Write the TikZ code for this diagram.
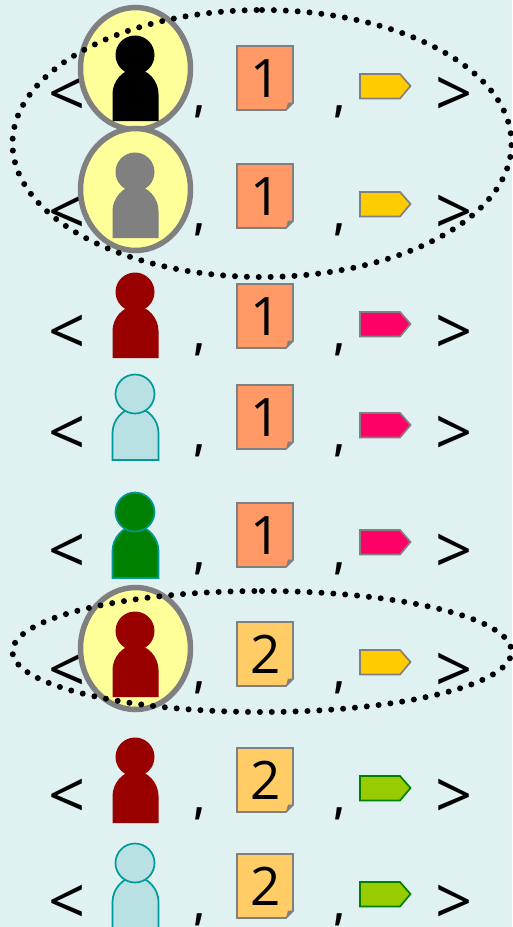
\documentclass[tikz,border=0pt]{standalone}
\usepackage{fontspec}
\usetikzlibrary{shapes.geometric}
\setmainfont{Open Sans}
\definecolor{bgpale}{HTML}{DFF1F1}
\definecolor{ringfill}{HTML}{FFFF99}
\definecolor{tealline}{HTML}{009999}
\definecolor{tealfill}{HTML}{B9E0E3}
\definecolor{darkred}{HTML}{990000}
\definecolor{darkgreen}{HTML}{008000}
\definecolor{orangedoc}{HTML}{FF9966}
\definecolor{amberdoc}{HTML}{FFCC66}
\definecolor{ambertag}{HTML}{FFCC00}
\definecolor{pinktag}{HTML}{FF0066}
\definecolor{limetag}{HTML}{99CC00}
\tikzset{
	ring/.style={ellipse,draw=gray,fill=ringfill,line width=5.5pt,minimum width=110pt,minimum height=122pt,inner sep=0pt},
	dotring/.style={line width=6pt,line cap=round,dash pattern=on 0pt off 11.9pt},
	sign/.style={font=\fontsize{65}{65}\selectfont,inner sep=0pt,anchor=base},
	sep/.style={font=\bfseries\fontsize{50}{50}\selectfont,inner sep=0pt,anchor=base,xscale=.7},
	numeral/.style={font=\fontsize{53}{53}\selectfont,inner sep=0pt,anchor=base},
	person/.pic={
		\path[pic actions] (-22.5,66) -- (-22.5,39) .. controls (-22.5,26) and (-12,14) .. (0.5,14)
			.. controls (13,14) and (23.5,26) .. (23.5,39) -- (23.5,66) -- cycle;
		\path[pic actions] (0,0) circle (19.5);
	},
	docnote/.pic={
		\path[pic actions] (0,0) -- (56,0) -- (56,57) -- (49,64) -- (0,64) -- cycle;
		\fill[gray] (49,64) -- (51,56.5) -- (56,56.5) -- cycle;
	},
	flag/.pic={
		\path[pic actions] (0,0) -- (40,0) -- (50.5,12) -- (40,24.5) -- (0,24.5) -- cycle;
	},
	doc one/.style={draw=gray,fill=orangedoc,line width=1.7pt},
	doc two/.style={draw=gray,fill=amberdoc,line width=1.7pt},
	flag amber/.style={draw=gray,fill=ambertag,line width=1.7pt},
	flag pink/.style={draw=gray,fill=pinktag,line width=1.7pt},
	flag lime/.style={draw=darkgreen,fill=limetag,line width=1.7pt},
	pers black/.style={fill=black},
	pers gray/.style={fill=gray},
	pers red/.style={fill=darkred},
	pers teal/.style={draw=tealline,fill=tealfill,line width=1.7pt},
	pers green/.style={draw=tealline,fill=darkgreen,line width=1.7pt},
}
\begin{document}
\begin{tikzpicture}[x=1pt,y=-1pt]
	\useasboundingbox (0,0) rectangle (512,927);
	\fill[bgpale] (0,0) rectangle (512,927);

	% first group
	\node[sign] (open1) at ( 67,116) {<};
	\node[ring] (ring1) at (135.5,68.5) {};
	\pic (who1) [pers black] at (135, 55) {person};
	\node[sep] (comA1) at (200,111) {,};
	\pic (doc1) [doc one] at (237, 46) {docnote};
	\node[numeral] (num1) at (266, 97) {1};
	\node[sep] (comB1) at (340,111) {,};
	\pic (tag1) [flag amber] at (360, 74) {flag};
	\node[sign] (close1) at (454.5,116) {>};

	\node[sign] (open2) at ( 67,234) {<};
	\node[ring] (ring2) at (135.5,189.5) {};
	\pic (who2) [pers gray] at (135,172) {person};
	\node[sep] (comA2) at (200,229) {,};
	\pic (doc2) [doc one] at (237,164) {docnote};
	\node[numeral] (num2) at (266,215) {1};
	\node[sep] (comB2) at (340,229) {,};
	\pic (tag2) [flag amber] at (360,192) {flag};
	\node[sign] (close2) at (454.5,234) {>};

	\draw[dotring] (262,10) arc [start angle=-90,end angle=270,x radius=249.5,y radius=133.5];

	% single rows
	\node[sign] (open3) at ( 67,354) {<};
	\pic (who3) [pers red] at (135,292) {person};
	\node[sep] (comA3) at (200,349) {,};
	\pic (doc3) [doc one] at (237,284) {docnote};
	\node[numeral] (num3) at (266,335) {1};
	\node[sep] (comB3) at (340,349) {,};
	\pic (tag3) [flag pink] at (360,312) {flag};
	\node[sign] (close3) at (454.5,354) {>};

	\node[sign] (open4) at ( 67,455) {<};
	\pic (who4) [pers teal] at (135,394) {person};
	\node[sep] (comA4) at (200,450) {,};
	\pic (doc4) [doc one] at (237,385) {docnote};
	\node[numeral] (num4) at (266,436) {1};
	\node[sep] (comB4) at (340,450) {,};
	\pic (tag4) [flag pink] at (360,413) {flag};
	\node[sign] (close4) at (454.5,455) {>};

	\node[sign] (open5) at ( 67,573) {<};
	\pic (who5) [pers green] at (135,512) {person};
	\node[sep] (comA5) at (200,568) {,};
	\pic (doc5) [doc one] at (237,503) {docnote};
	\node[numeral] (num5) at (266,554) {1};
	\node[sep] (comB5) at (340,568) {,};
	\pic (tag5) [flag pink] at (360,530) {flag};
	\node[sign] (close5) at (454.5,573) {>};

	% second group
	\node[sign] (open6) at ( 67,692) {<};
	\node[ring] (ring6) at (135.5,648.5) {};
	\pic (who6) [pers red] at (135,631) {person};
	\node[sep] (comA6) at (200,687) {,};
	\pic (doc6) [doc two] at (237,622) {docnote};
	\node[numeral] (num6) at (266,673) {2};
	\node[sep] (comB6) at (340,687) {,};
	\pic (tag6) [flag amber] at (360,650) {flag};
	\node[sign] (close6) at (454.5,692) {>};

	\draw[dotring] (262,591) arc [start angle=-90,end angle=270,x radius=249.5,y radius=60.5];

	\node[sign] (open7) at ( 67,818) {<};
	\pic (who7) [pers red] at (135,757) {person};
	\node[sep] (comA7) at (200,813) {,};
	\pic (doc7) [doc two] at (237,748) {docnote};
	\node[numeral] (num7) at (266,799) {2};
	\node[sep] (comB7) at (340,813) {,};
	\pic (tag7) [flag lime] at (360,776) {flag};
	\node[sign] (close7) at (454.5,818) {>};

	\node[sign] (open8) at ( 67,924) {<};
	\pic (who8) [pers teal] at (135,863) {person};
	\node[sep] (comA8) at (200,919) {,};
	\pic (doc8) [doc two] at (237,854) {docnote};
	\node[numeral] (num8) at (266,905) {2};
	\node[sep] (comB8) at (340,919) {,};
	\pic (tag8) [flag lime] at (360,882) {flag};
	\node[sign] (close8) at (454.5,924) {>};
\end{tikzpicture}
\end{document}
